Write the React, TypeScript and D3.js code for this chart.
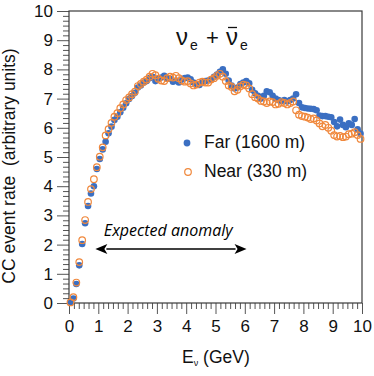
import React, { useRef, useEffect } from "react";
import { select, scaleLinear, axisLeft, axisBottom, range } from "d3";

// bin centres (GeV)
const energy = [
  0.05, 0.15, 0.25, 0.35, 0.45, 0.55, 0.65, 0.75, 0.85, 0.95,
  1.05, 1.15, 1.25, 1.35, 1.45, 1.55, 1.65, 1.75, 1.85, 1.95,
  2.05, 2.15, 2.25, 2.35, 2.45, 2.55, 2.65, 2.75, 2.85, 2.95,
  3.05, 3.15, 3.25, 3.35, 3.45, 3.55, 3.65, 3.75, 3.85, 3.95,
  4.05, 4.15, 4.25, 4.35, 4.45, 4.55, 4.65, 4.75, 4.85, 4.95,
  5.05, 5.15, 5.25, 5.35, 5.45, 5.55, 5.65, 5.75, 5.85, 5.95,
  6.05, 6.15, 6.25, 6.35, 6.45, 6.55, 6.65, 6.75, 6.85, 6.95,
  7.05, 7.15, 7.25, 7.35, 7.45, 7.55, 7.65, 7.75, 7.85, 7.95,
  8.05, 8.15, 8.25, 8.35, 8.45, 8.55, 8.65, 8.75, 8.85, 8.95,
  9.05, 9.15, 9.25, 9.35, 9.45, 9.55, 9.65, 9.75, 9.85, 9.95,
];

// Far detector (1600 m)
const farRate = [
  0.02, 0.15, 0.65, 1.29, 2.02, 2.73, 3.32, 3.75, 4.0, 4.59,
  4.93, 5.26, 5.52, 5.81, 6.04, 6.27, 6.38, 6.53, 6.69, 6.84,
  6.99, 7.09, 7.2, 7.38, 7.45, 7.55, 7.6, 7.7, 7.75, 7.6,
  7.68, 7.72, 7.78, 7.7, 7.68, 7.58, 7.62, 7.55, 7.65, 7.7,
  7.72, 7.66, 7.55, 7.5, 7.47, 7.55, 7.6, 7.62, 7.65, 7.75,
  7.82, 7.92, 8.0, 7.85, 7.62, 7.45, 7.35, 7.38, 7.5, 7.55,
  7.6, 7.52, 7.3, 7.18, 7.1, 7.0, 7.1, 7.25, 7.22, 7.1,
  7.0, 6.95, 6.92, 6.95, 6.9, 6.95, 7.0, 7.15, 6.85, 6.7,
  6.68, 6.66, 6.65, 6.64, 6.6, 6.42, 6.4, 6.4, 6.38, 6.36,
  6.2, 6.05, 6.28, 6.1, 6.02, 6.15, 6.1, 6.3, 5.95, 5.8,
];

// Near detector (330 m)
const nearRate = [
  0.02, 0.2, 0.7, 1.4, 2.15, 2.84, 3.46, 3.9, 4.24, 4.65,
  5.01, 5.33, 5.74, 5.95, 6.17, 6.38, 6.5, 6.67, 6.8, 6.95,
  7.04, 7.15, 7.24, 7.43, 7.5, 7.58, 7.65, 7.75, 7.85, 7.8,
  7.68, 7.62, 7.6, 7.7, 7.75, 7.72, 7.78, 7.7, 7.62, 7.58,
  7.6, 7.52, 7.45, 7.48, 7.55, 7.58, 7.55, 7.55, 7.65, 7.7,
  7.78, 7.85, 7.75, 7.6, 7.45, 7.4, 7.25, 7.3, 7.42, 7.48,
  7.45, 7.35, 7.15, 7.05, 7.0, 6.92, 6.9, 6.85, 6.9, 6.88,
  6.8, 6.82, 6.88, 6.85, 6.8, 6.85, 6.9, 6.6, 6.45, 6.4,
  6.38, 6.35, 6.3, 6.32, 6.25, 6.15, 6.05, 6.1, 6.0, 5.9,
  5.75, 5.7, 5.72, 5.68, 5.7, 5.78, 5.8, 5.85, 5.75, 5.62,
];

const majorTicks = [0, 1, 2, 3, 4, 5, 6, 7, 8, 9, 10];
const anomalyRange = [0.9, 6.06];
const anomalyLevel = 1.85;

const BLUE = "#3b6fc2";
const ORANGE = "#f0883c";
const FONT = "'Liberation Sans', Arial, Helvetica, sans-serif";

function EventRateChart() {
  const svgRef = useRef(null);
  const width = 374;
  const height = 376;
  const margin = { top: 11, right: 12, bottom: 73, left: 69 };

  useEffect(() => {
    const svg = select(svgRef.current);
    const innerW = width - margin.left - margin.right;
    const innerH = height - margin.top - margin.bottom;

    const x = scaleLinear().domain([0, 10]).range([0, innerW]);
    const y = scaleLinear().domain([0, 10]).range([innerH, 0]);
    const minor = range(0, 10.001, 1 / 6).filter(
      (v) => Math.abs(v - Math.round(v)) > 1e-6
    );

    const main = svg.select(".main-group");
    main.attr("transform", `translate(${margin.left} ${margin.top})`);

    // frame
    main
      .select(".frame")
      .attr("x", 0)
      .attr("y", 0)
      .attr("width", innerW)
      .attr("height", innerH)
      .attr("fill", "none")
      .attr("stroke", "#3a3a3a")
      .attr("stroke-width", 1.2);

    // axes
    const styleAxis = (g) => {
      g.select(".domain").remove();
      g.selectAll("line").attr("stroke", "#555").attr("stroke-width", 1);
      g.selectAll("text")
        .attr("font-family", FONT)
        .attr("font-size", 17)
        .attr("fill", "#111");
    };

    main
      .select(".y-minor")
      .call(axisLeft(y).tickValues(minor).tickSize(6).tickFormat(() => ""))
      .call(styleAxis);
    main
      .select(".y-axis")
      .call(axisLeft(y).tickValues(majorTicks).tickSize(12).tickPadding(4))
      .call(styleAxis);
    main
      .select(".x-minor")
      .attr("transform", `translate(0 ${innerH})`)
      .call(axisBottom(x).tickValues(minor).tickSize(6).tickFormat(() => ""))
      .call(styleAxis);
    main
      .select(".x-axis")
      .attr("transform", `translate(0 ${innerH})`)
      .call(axisBottom(x).tickValues(majorTicks).tickSize(11).tickPadding(6))
      .call(styleAxis);

    // expected anomaly arrow
    const ay = y(anomalyLevel);
    const x0 = x(anomalyRange[0]);
    const x1 = x(anomalyRange[1]);
    const hl = 12;
    const hw = 5;
    const arrow = main.select(".arrow");
    arrow
      .selectAll("line")
      .data([0])
      .join("line")
      .attr("x1", x0 + hl - 1)
      .attr("x2", x1 - hl + 1)
      .attr("y1", ay)
      .attr("y2", ay)
      .attr("stroke", "#000")
      .attr("stroke-width", 1.4);
    arrow
      .selectAll("path")
      .data([
        [x0, 1],
        [x1, -1],
      ])
      .join("path")
      .attr(
        "d",
        ([px, dir]) =>
          `M${px},${ay} L${px + dir * hl},${ay - hw} L${px + dir * (hl - 3)},${ay} L${px + dir * hl},${ay + hw} Z`
      )
      .attr("fill", "#000");
    arrow
      .selectAll("text")
      .data(["Expected anomaly"])
      .join("text")
      .attr("x", x0 + 8.5)
      .attr("y", ay - 13)
      .attr("font-family", "'Open Sans', sans-serif")
      .attr("font-style", "italic")
      .attr("font-size", 16)
      .attr("fill", "#000")
      .text((d) => d);

    // far: filled dots
    main
      .select(".far")
      .selectAll("circle")
      .data(energy)
      .join("circle")
      .attr("cx", (d) => x(d))
      .attr("cy", (d, i) => y(farRate[i]))
      .attr("r", 3.3)
      .attr("fill", BLUE);

    // near: open circles
    main
      .select(".near")
      .selectAll("circle")
      .data(energy)
      .join("circle")
      .attr("cx", (d) => x(d))
      .attr("cy", (d, i) => y(nearRate[i]))
      .attr("r", 3.3)
      .attr("fill", "none")
      .attr("stroke", ORANGE)
      .attr("stroke-width", 1.2);
  }, []);

  return (
    <svg
      ref={svgRef}
      width={width}
      height={height}
      style={{ position: "absolute", left: 0, top: 0, background: "#fff" }}
    >
      <g className="main-group">
        <g className="y-minor" />
        <g className="x-minor" />
        <g className="y-axis" />
        <g className="x-axis" />
        <rect className="frame" />
        <g className="arrow" />
        <g className="far" />
        <g className="near" />
      </g>

      {/* title: nu_e + nu-bar_e */}
      <g fontFamily={FONT} fill="#111">
        <text x={176} y={45} fontSize={24}>ν</text>
        <text x={190} y={50} fontSize={14}>e</text>
        <text x={206} y={45} fontSize={22}>+</text>
        <text x={226} y={45} fontSize={24}>ν</text>
        <line x1={228} x2={237} y1={27.5} y2={27.5} stroke="#111" strokeWidth={1.3} />
        <text x={240} y={50} fontSize={14}>e</text>
      </g>

      {/* legend */}
      <g fontFamily={FONT} fontSize={17.5} fill="#111">
        <circle cx={187} cy={143} r={3.4} fill={BLUE} />
        <text x={204} y={148}>Far (1600 m)</text>
        <circle cx={188} cy={172} r={3.3} fill="none" stroke={ORANGE} strokeWidth={1.2} />
        <text x={204} y={177}>Near (330 m)</text>
      </g>

      {/* axis titles */}
      <text
        transform="translate(15 166) rotate(-90)"
        textAnchor="middle"
        fontFamily={FONT}
        fontSize={17.5}
        fill="#111"
      >
        CC event rate{"\u00a0\u00a0"}(arbitrary units)
      </text>
      <text x={182} y={363} fontFamily={FONT} fontSize={17.5} fill="#111">
        E<tspan fontSize={9} dy={3}>ν</tspan>
        <tspan dy={-3}> (GeV)</tspan>
      </text>
    </svg>
  );
}

export default function App() {
  return <EventRateChart />;
}
